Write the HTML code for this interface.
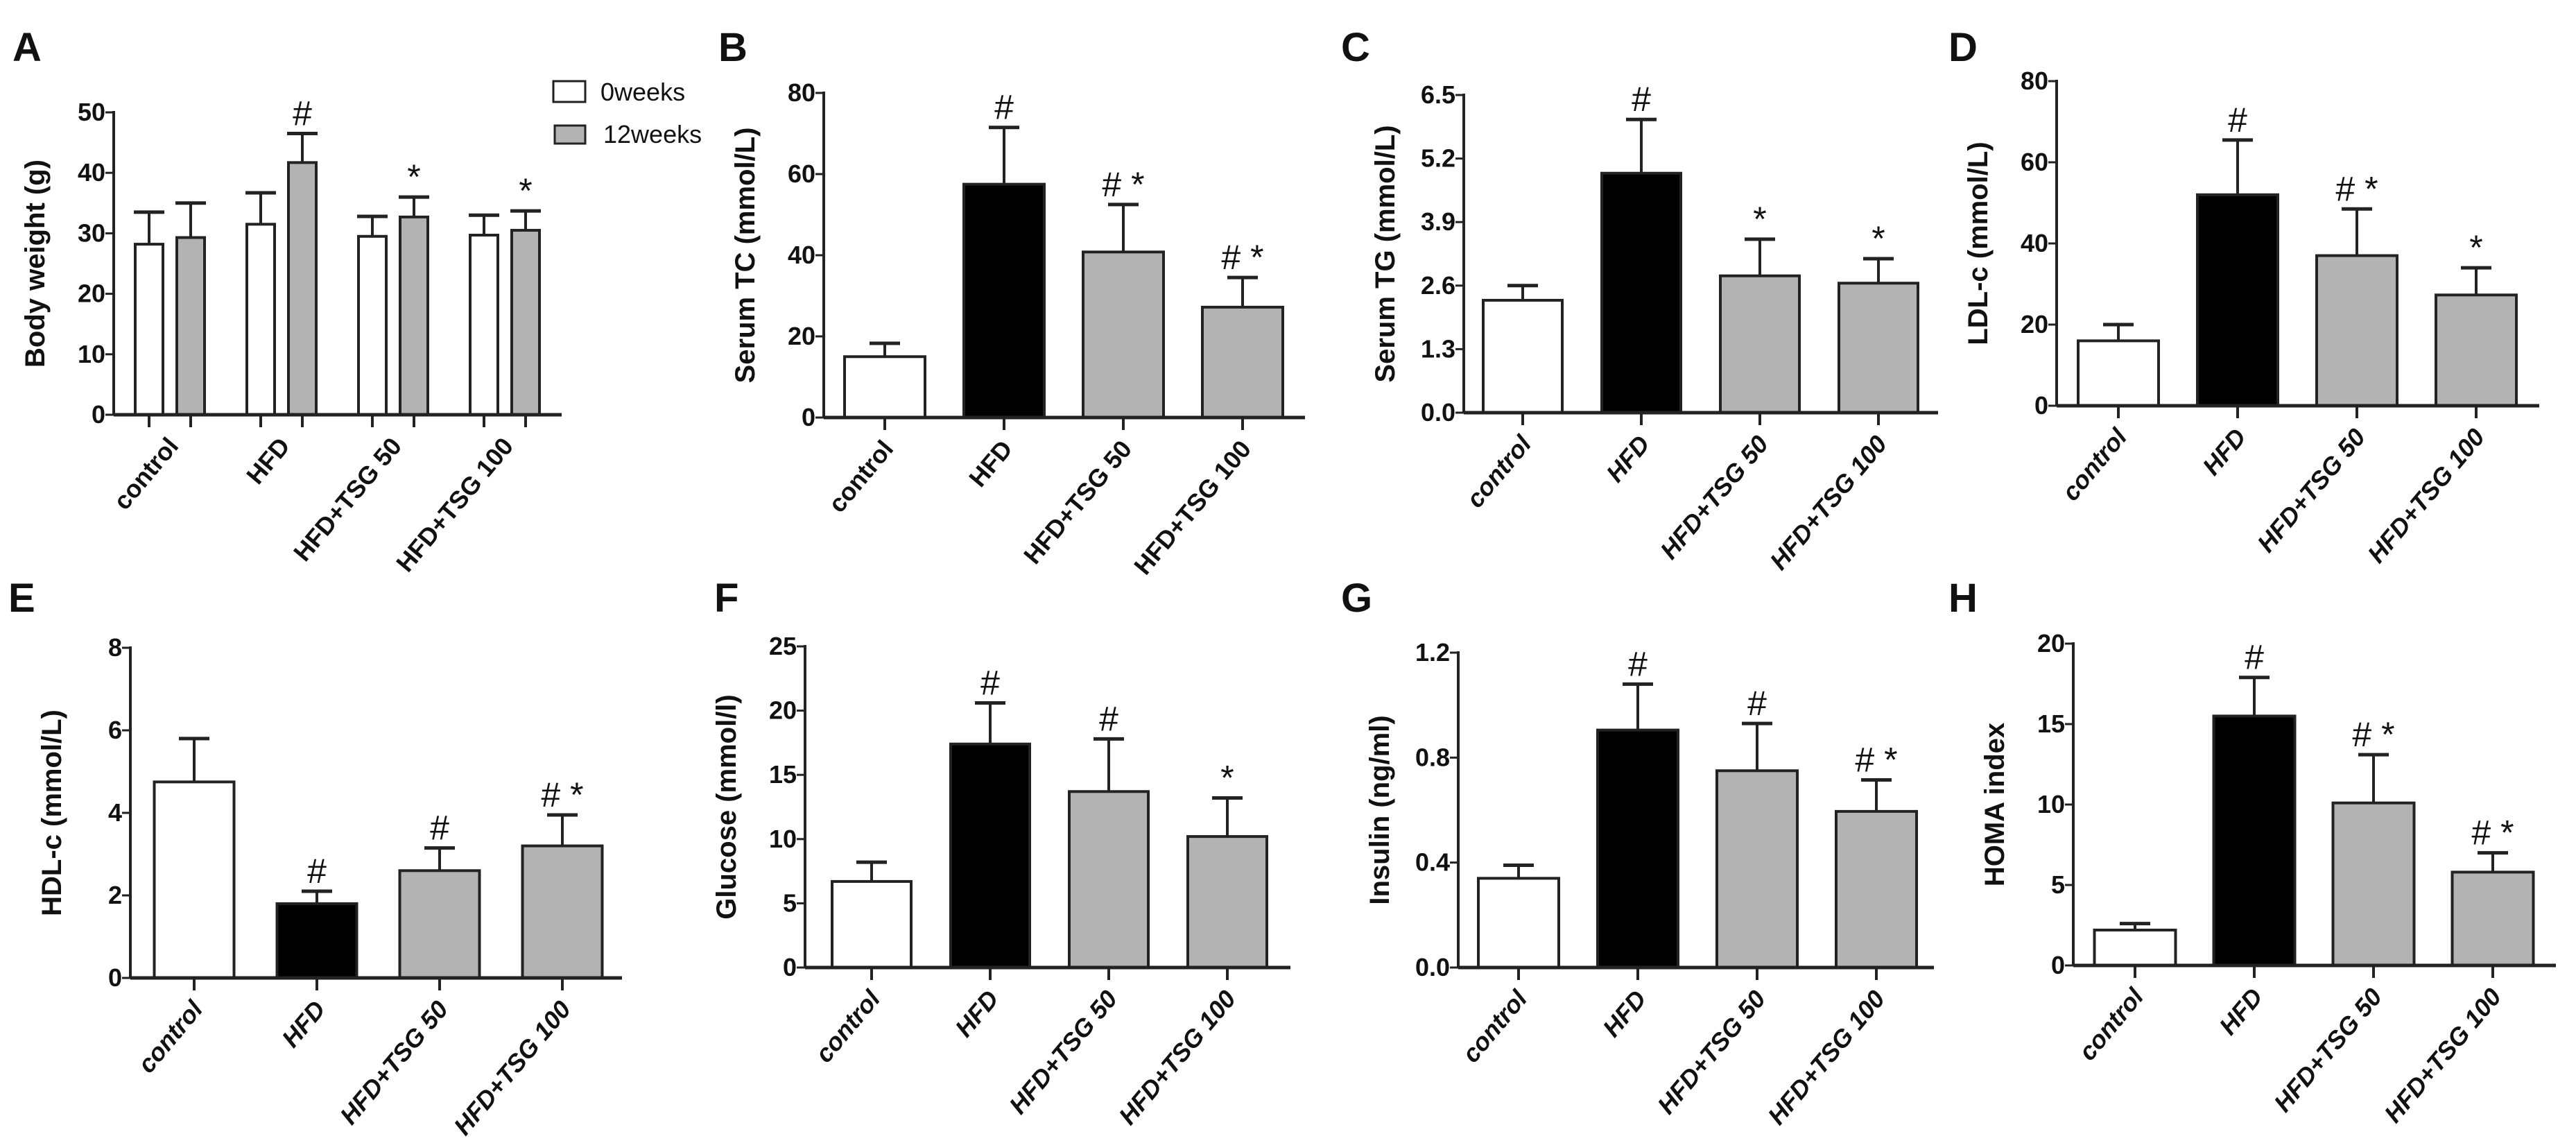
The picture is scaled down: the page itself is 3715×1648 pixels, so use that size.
<!DOCTYPE html>
<html><head><meta charset="utf-8"><style>
html,body{margin:0;padding:0;background:#fff;}
svg{display:block;}
text{font-family:"Liberation Sans Narrow","Liberation Sans",sans-serif;fill:#111;}
</style></head><body>
<svg id="fig" width="3715" height="1648" viewBox="0 0 3715 1648" xmlns="http://www.w3.org/2000/svg"></svg>
<script>
const groups = ["control","HFD","HFD+TSG 50","HFD+TSG 100"];
// Panel A
const aWeek0 = [28.2,31.5,29.5,29.7];
const aWeek0Err = [33.5,36.7,32.8,33.0];
const aWeek12 = [29.3,41.7,32.7,30.5];
const aWeek12Err = [35.0,46.5,36.0,33.7];
const aMarks12 = ["","#","*","*"];
const aTicks = [0,10,20,30,40,50];
// Panels B-H
const bVals=[15,57.5,40.8,27.2], bErr=[18.3,71.5,52.5,34.5], bMarks=["","#","#*","#*"], bTicks=[0,20,40,60,80];
const cVals=[2.3,4.9,2.8,2.65], cErr=[2.6,6.0,3.55,3.15], cMarks=["","#","*","*"], cTicks=["0.0","1.3","2.6","3.9","5.2","6.5"];
const dVals=[16,52,37,27.3], dErr=[20,65.5,48.5,34], dMarks=["","#","#*","*"], dTicks=[0,20,40,60,80];
const eVals=[4.75,1.8,2.6,3.2], eErr=[5.8,2.1,3.15,3.95], eMarks=["","#","#","#*"], eTicks=[0,2,4,6,8];
const fVals=[6.7,17.4,13.7,10.2], fErr=[8.2,20.6,17.8,13.2], fMarks=["","#","#","*"], fTicks=[0,5,10,15,20,25];
const gVals=[0.34,0.905,0.75,0.595], gErr=[0.39,1.08,0.93,0.715], gMarks=["","#","#","#*"], gTicks=["0.0","0.4","0.8","1.2"];
const hVals=[2.2,15.5,10.1,5.8], hErr=[2.6,17.9,13.1,7.0], hMarks=["","#","#*","#*"], hTicks=[0,5,10,15,20];

const NS="http://www.w3.org/2000/svg";
const svg=document.getElementById('fig');
function mk(tag,attrs,parent){const e=document.createElementNS(NS,tag);for(const k in attrs)e.setAttribute(k,attrs[k]);(parent||svg).appendChild(e);return e;}
const FILLS=["#ffffff","#000000","#b3b3b3","#b3b3b3"];

function axes(g,p,ticks){
  const ymax=+ticks[ticks.length-1];
  const y=v=>p.y0-(v/ymax)*(p.y0-p.yTop);
  ticks.forEach(t=>{
    const tl=mk('line',{x1:p.ax-12,x2:p.ax,y1:y(+t),y2:y(+t),stroke:'#222','stroke-width':3},g);
    
    
    const tx=mk('text',{x:p.ax-12,y:y(+t)+12,'text-anchor':'end','font-size':36,'font-weight':'bold'},g);
    tx.textContent=t;
    
    
  });
  const ya=mk('line',{x1:p.ax,x2:p.ax,y1:p.yTop-2,y2:p.y0,stroke:'#222','stroke-width':4},g);
  
  
  const tt=mk('text',{x:0,y:0,'text-anchor':'middle','font-size':40,'font-weight':'bold',transform:`translate(${p.ax-100},${(p.y0+p.yTop)/2}) rotate(-90)`,style:'font-family:"Liberation Sans",sans-serif'},g);
  tt.textContent=p.title;
  
  
  const lab=mk('text',{x:p.lx,y:p.ly,'font-size':58,'font-weight':'bold',style:'font-family:"Liberation Sans",sans-serif'},g);
  lab.textContent=p.label;
  
  
  return y;
}
function xaxis(g,p){
  const xa=mk('line',{x1:p.ax,x2:p.xEnd,y1:p.y0,y2:p.y0,stroke:'#222','stroke-width':5},g);
  
  
}
function catLabel(g,x,y0,text,italic){
  const t=mk('text',{x:0,y:0,'text-anchor':'end','font-size':36,'font-weight':'bold','font-style':italic?'italic':'normal',transform:`translate(${x+14},${y0+46}) rotate(-50)`,style:'font-family:"Liberation Sans",sans-serif'},g);
  t.textContent=text;
  
  
}
function bar(g,cx,w,yv,y0,fill,errY,mark){
  const r=mk('rect',{x:cx-w/2,y:yv,width:w,height:y0-yv,fill:fill,stroke:'#222','stroke-width':4},g);
  
  
  const el=mk('line',{x1:cx,x2:cx,y1:yv,y2:errY,stroke:'#222','stroke-width':4},g);
  
  
  const cap=mk('line',{x1:cx-22,x2:cx+22,y1:errY,y2:errY,stroke:'#222','stroke-width':5},g);
  
  
  const tk=mk('line',{x1:cx,x2:cx,y1:y0,y2:y0+18,stroke:'#222','stroke-width':4},g);
  
  
  if(mark){
    const m=mk('text',{x:cx,y:errY-12,'text-anchor':'middle','font-size':50,style:'font-family:"Liberation Sans",sans-serif'},g);
    m.textContent=mark.split('').join(' ');
    
    
  }
}
function panel(p,vals,errs,marks,ticks){
  const g=mk('g',{});
  
  
  const y=axes(g,p,ticks);
  vals.forEach((v,i)=>{
    const cx=p.c0+i*p.pitch;
    bar(g,cx,p.w,y(v),p.y0,FILLS[i],y(errs[i]),marks[i]);
    catLabel(g,cx,p.y0,groups[i],p.italic);
  });
  xaxis(g,p);
}
// Panel A (grouped)
(function(){
  const p={label:'A',lx:18,ly:88,ax:164,yTop:162,y0:598,xEnd:810,title:'Body weight (g)'};
  const g=mk('g',{});
  
  
  const y=axes(g,p,aTicks);
  groups.forEach((name,i)=>{
    const c=215+i*161;
    bar(g,c,40,y(aWeek0[i]),p.y0,'#ffffff',y(aWeek0Err[i]),'');
    bar(g,c+60,40,y(aWeek12[i]),p.y0,'#b3b3b3',y(aWeek12Err[i]),aMarks12[i]);
    catLabel(g,c+30,p.y0,name,false);
  });
  xaxis(g,p);
  const l1=mk('rect',{x:798,y:117,width:46,height:30,fill:'#fff',stroke:'#222','stroke-width':3});
  
  
  const l2=mk('rect',{x:800,y:181,width:44,height:26,fill:'#b3b3b3',stroke:'#222','stroke-width':3});
  
  
  const t1=mk('text',{x:866,y:145,'font-size':36});
  t1.textContent='0weeks';
  
  
  const t2=mk('text',{x:870,y:206,'font-size':36});
  t2.textContent='12weeks';
  
  
})();
panel({label:'B',lx:1036,ly:88,ax:1188,yTop:134,y0:602,xEnd:1882,c0:1276,pitch:172,w:116,title:'Serum TC (mmol/L)'},bVals,bErr,bMarks,bTicks);
panel({label:'C',lx:1934,ly:88,ax:2111,yTop:137,y0:595,xEnd:2795,c0:2196,pitch:171,w:114,italic:true,title:'Serum TG (mmol/L)'},cVals,cErr,cMarks,cTicks);
panel({label:'D',lx:2810,ly:88,ax:2966,yTop:117,y0:585,xEnd:3662,c0:3055,pitch:172,w:116,italic:true,title:'LDL-c (mmol/L)'},dVals,dErr,dMarks,dTicks);
panel({label:'E',lx:12,ly:882,ax:188,yTop:934,y0:1410,xEnd:897,c0:280,pitch:177,w:115,italic:true,title:'HDL-c (mmol/L)'},eVals,eErr,eMarks,eTicks);
panel({label:'F',lx:1030,ly:882,ax:1161,yTop:932,y0:1395,xEnd:1861,c0:1257,pitch:171,w:114,italic:true,title:'Glucose (mmol/l)'},fVals,fErr,fMarks,fTicks);
panel({label:'G',lx:1934,ly:882,ax:2103,yTop:941,y0:1395,xEnd:2789,c0:2190,pitch:172,w:116,italic:true,title:'Insulin (ng/ml)'},gVals,gErr,gMarks,gTicks);
panel({label:'H',lx:2810,ly:882,ax:2990,yTop:928,y0:1392,xEnd:3686,c0:3079,pitch:172,w:117,italic:true,title:'HOMA index'},hVals,hErr,hMarks,hTicks);
</script>
</body></html>
